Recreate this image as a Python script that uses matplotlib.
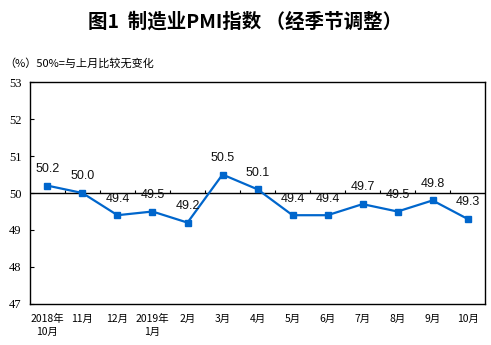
import matplotlib
matplotlib.use('Agg')
import matplotlib.pyplot as plt
import numpy as np

# Data
months = ['2018年\n10月', '11月', '12月', '2019年\n1月', '2月', '3月', '4月',
          '5月', '6月', '7月', '8月', '9月', '10月']
pmi = [50.2, 50.0, 49.4, 49.5, 49.2, 50.5, 50.1, 49.4, 49.4, 49.7, 49.5, 49.8, 49.3]
y_ticks = [47, 48, 49, 50, 51, 52, 53]

cjk = ['Noto Sans CJK SC', 'DejaVu Sans']
plt.rcParams['font.family'] = cjk

fig = plt.figure(figsize=(4.91, 3.45), dpi=100)
ax = fig.add_axes([0.061, 0.119, 0.927, 0.643])

x = np.arange(len(pmi))
ax.plot(x, pmi, color='#0066CC', lw=1.6, marker='s', markersize=4.5, zorder=3)

for xi, v in zip(x, pmi):
    ax.annotate(f'{v:.1f}', (xi, v), xytext=(0, 12), textcoords='offset points',
                ha='center', va='center', fontsize=9, family='Liberation Sans',
                color='#111111')

# 50 baseline with upward ticks between categories
ax.axhline(50, color='black', lw=1, zorder=2)
ax.vlines(x[:-1] + 0.5, 50, 50.08, color='black', lw=0.8)

ax.set_xlim(-0.5, len(pmi) - 0.5)
ax.set_ylim(47, 53)
ax.set_yticks(y_ticks)
ax.set_yticklabels([str(t) for t in y_ticks], family='Liberation Serif', fontsize=9)
ax.set_xticks(x)
ax.set_xticklabels(months, fontsize=7.5, linespacing=1.4, va='top')
ax.tick_params(axis='x', length=0, pad=7)
ax.tick_params(axis='y', length=3, direction='in', pad=6)
for s in ax.spines.values():
    s.set_color('black')
    s.set_linewidth(1)

fig.text(0.5, 0.936, '图1  制造业PMI指数 （经季节调整）', ha='center', va='center',
         fontsize=14, fontweight='bold')
fig.text(0.008, 0.817, '（%）50%=与上月比较无变化', ha='left', va='center', fontsize=8)

fig.savefig('out.png', dpi=100)
